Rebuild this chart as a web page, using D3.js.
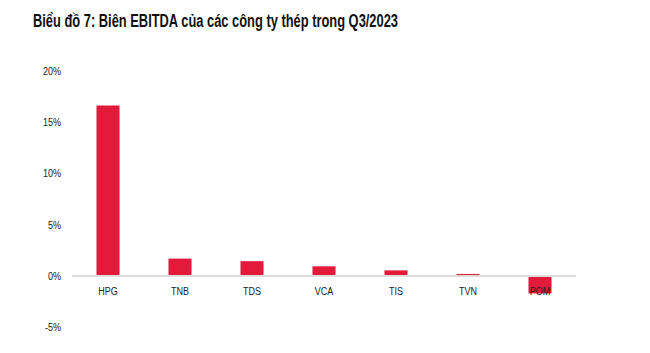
<!DOCTYPE html>
<html>
<head>
<meta charset="utf-8">
<script src="https://cdn.jsdelivr.net/npm/d3@7"></script>
<style>
  body { margin: 0; background: #fff; }
  svg text { font-family: "Liberation Sans", Arial, sans-serif; }
</style>
</head>
<body>
<div id="chart"></div>
<script>
// Biên EBITDA Q3/2023 (%)
var categories = ["HPG", "TNB", "TDS", "VCA", "TIS", "TVN", "POM"];
var ebitdaMargin = [16.6, 1.65, 1.4, 0.9, 0.5, 0.15, -1.75];
var yTicks = [-5, 0, 5, 10, 15, 20];

var width = 650, height = 353;
var barColor = "#e31a3a";
var narrow = "scale(0.82,1)"; // fake Arial Narrow

var svg = d3.select("#chart").append("svg")
    .attr("width", width)
    .attr("height", height);

svg.append("text")
    .attr("x", 33)
    .attr("y", 27)
    .attr("font-size", 18)
    .attr("font-weight", "bold")
    .attr("fill", "#111")
    .attr("textLength", 365)
    .attr("lengthAdjust", "spacingAndGlyphs")
    .text("Biểu đồ 7: Biên EBITDA của các công ty thép trong Q3/2023");

var xScale = d3.scaleBand()
    .domain(categories)
    .range([72, 576])
    .paddingInner(0.68)
    .paddingOuter(0.34);

var yScale = d3.scaleLinear()
    .domain([-5, 20])
    .range([326.7, 70.7]);

// y axis labels only, no line
var yAxis = d3.axisLeft(yScale)
    .tickValues(yTicks)
    .tickSize(0)
    .tickPadding(0)
    .tickFormat(function(d) { return d + "%"; });
var yg = svg.append("g")
    .attr("transform", "translate(61,0)")
    .call(yAxis);
yg.select(".domain").remove();
yg.selectAll("text")
    .attr("font-size", 11)
    .attr("fill", "#222")
    .attr("dy", "0.35em")
    .attr("transform", narrow);

// bars
svg.append("g").selectAll("rect")
    .data(ebitdaMargin)
    .enter()
    .append("rect")
    .attr("x", function(d, i) { return xScale(categories[i]); })
    .attr("y", function(d) { return yScale(Math.max(0, d)); })
    .attr("width", xScale.bandwidth())
    .attr("height", function(d) { return Math.abs(yScale(d) - yScale(0)); })
    .attr("fill", barColor);

// zero line
svg.append("line")
    .attr("x1", 72)
    .attr("x2", 576)
    .attr("y1", yScale(0) + 0.5)
    .attr("y2", yScale(0) + 0.5)
    .attr("stroke", "#dcdcdc")
    .attr("stroke-width", 2);

// category labels, drawn after bars (POM label sits on its bar)
var xAxis = d3.axisBottom(xScale).tickSize(0).tickPadding(0);
var xg = svg.append("g")
    .attr("transform", "translate(0," + 287 + ")")
    .call(xAxis);
xg.select(".domain").remove();
xg.selectAll("text")
    .attr("font-size", 11)
    .attr("fill", "#222")
    .attr("dy", "0.71em")
    .attr("transform", narrow);
</script>
</body>
</html>
